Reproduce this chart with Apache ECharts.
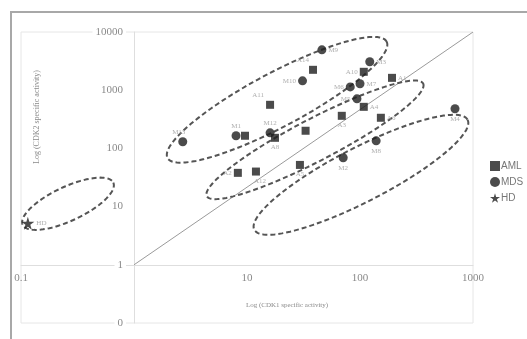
<!DOCTYPE html>
<html>
<head>
<meta charset="utf-8">
<script src="https://cdn.jsdelivr.net/npm/echarts@6/dist/echarts.min.js"></script>
<style>
  html, body { margin: 0; padding: 0; background: #fff; }
  #chart { width: 527px; height: 339px; }
</style>
</head>
<body>
<div id="chart"></div>
<script>
// values (CDK1 on x, CDK2 on y)
const amlNames = ['A1', 'A2', 'A3', 'A4', 'A5', 'A6', 'A7', 'A8', 'A9', 'A10', 'A11', 'A12', 'A14'];
const amlCdk1 = [192, 8.3, 69, 108, 29.4, 153, 33, 17.7, 9.6, 108, 16, 12, 38.4];
const amlCdk2 = [1630, 38, 363, 518, 52, 336, 201, 152, 165, 2070, 561, 40, 2240];

const mdsNames = ['M1', 'M2', 'M3', 'M4', 'M5', 'M6', 'M7', 'M8', 'M9', 'M10', 'M12', 'M13'];
const mdsCdk1 = [8.0, 71, 122, 693, 94, 82, 100, 139, 46, 31, 16, 2.7];
const mdsCdk2 = [165, 69, 3080, 479, 711, 1140, 1290, 135, 4940, 1450, 185, 130];

const hdNames = ['HD'];
const hdCdk1 = [0.115];
const hdCdk2 = [5.2];

// reference line and the dashed group outlines (tips of each long axis)
const refLine = [[1, 1], [1000, 10000]];
const groupTip1 = [[0.1035, 4.85], [1.98, 68.4], [4.41, 15.1], [11.6, 4.0]];
const groupTip2 = [[0.656, 25.8], [172, 6840], [362, 1303], [896, 310]];

const xTicks = ['0.1', '', '10', '100', '1000'];
const yTicks = ['0', '1', '10', '100', '1000', '10000'];

// label placement per point
const labelPlace = {
  M1: 'top', M2: 'bottom', M3: 'right', M4: 'bottom', M5: 'left', M6: 'left',
  M7: 'right', M8: 'bottom', M9: 'right', M10: 'left', M12: 'top', M13: 'top',
  A1: 'right', A2: 'left', A3: 'bottom', A4: 'right', A5: 'bottom', A6: 'right',
  A8: 'bottom', A10: 'left', A11: 'top', A12: 'bottom', A14: 'top', HD: 'right'
};
const labelShift = { A11: [-12, 0], A14: [-10, 0], M13: [-4, 0], A12: [4, 0] };
const outlineHalfWidth = [17, 27, 21, 27];

const STAR = 'path://M50,0 L61,35 L98,35 L68,57 L79,91 L50,70 L21,91 L32,57 L2,35 L39,35 Z';

function points(names, xs, ys) {
  return names.map((n, i) => {
    const place = labelPlace[n];
    return {
      name: n,
      value: [xs[i], ys[i]],
      label: place ? { show: true, position: place, offset: labelShift[n] || [0, 0] } : { show: false }
    };
  });
}

const pointLabel = {
  show: true,
  formatter: '{b}',
  fontFamily: 'Liberation Serif',
  fontSize: 7,
  color: '#9a9a9a',
  distance: 2
};

function tickIndex(v) {
  return Math.round(Math.log10(v));
}

const chart = echarts.init(document.getElementById('chart'));

chart.setOption({
  animation: false,
  backgroundColor: '#fff',
  grid: {
    left: 21, right: 54, top: 32, bottom: 16,
    show: true,
    borderColor: '#e6e6e6',
    borderWidth: 1
  },
  xAxis: {
    type: 'log',
    logBase: 10,
    min: 0.1,
    max: 1000,
    offset: -58,
    axisLine: { lineStyle: { color: '#dedede', width: 1 } },
    axisTick: { show: false },
    splitLine: { show: false },
    axisLabel: {
      showMinLabel: true,
      showMaxLabel: true,
      margin: 8,
      fontFamily: 'Liberation Serif',
      fontSize: 11,
      color: '#8a8a8a',
      formatter: v => xTicks[tickIndex(v) + 1]
    }
  },
  yAxis: {
    type: 'log',
    logBase: 10,
    min: 0.1,
    max: 10000,
    offset: -113,
    axisLine: { lineStyle: { color: '#dedede', width: 1 } },
    axisTick: { show: false },
    splitLine: { show: false },
    axisLabel: {
      showMinLabel: true,
      showMaxLabel: true,
      margin: 8,
      fontFamily: 'Liberation Serif',
      fontSize: 11,
      color: '#8a8a8a',
      backgroundColor: '#fff',
      padding: [0, 3],
      formatter: v => yTicks[tickIndex(v) + 1]
    }
  },
  legend: {
    orient: 'vertical',
    left: 485,
    top: 156,
    itemWidth: 10,
    itemHeight: 10,
    itemGap: 6,
    textStyle: { fontFamily: 'Liberation Sans', fontSize: 10, color: '#777', padding: [0, 0, 0, -4] },
    data: [
      { name: 'AML', icon: 'rect' },
      { name: 'MDS', icon: 'circle' },
      { name: 'HD', icon: STAR }
    ]
  },
  graphic: [
    {
      type: 'rect',
      shape: { x: 11, y: 12, width: 540, height: 350 },
      style: { fill: 'none', stroke: '#a8a8a8', lineWidth: 2 },
      silent: true
    },
    {
      type: 'text',
      x: 37, y: 117,
      rotation: Math.PI / 2,
      style: {
        text: 'Log (CDK2 specific activity)',
        fontFamily: 'Liberation Serif', fontSize: 8, fill: '#8a8a8a',
        textAlign: 'center', textVerticalAlign: 'middle'
      }
    },
    {
      type: 'text',
      x: 287, y: 305,
      style: {
        text: 'Log (CDK1 specific activity)',
        fontFamily: 'Liberation Serif', fontSize: 7, fill: '#8a8a8a',
        textAlign: 'center', textVerticalAlign: 'middle'
      }
    }
  ],
  series: [
    {
      type: 'line',
      data: refLine,
      symbol: 'none',
      lineStyle: { color: '#9a9a9a', width: 1 },
      silent: true,
      z: 1
    },
    {
      type: 'custom',
      silent: true,
      z: 2,
      data: groupTip1.map((t, i) => [t[0], t[1], groupTip2[i][0], groupTip2[i][1]]),
      encode: { x: [0, 2], y: [1, 3] },
      renderItem: function (params, api) {
        const p1 = api.coord([api.value(0), api.value(1)]);
        const p2 = api.coord([api.value(2), api.value(3)]);
        const cx = (p1[0] + p2[0]) / 2;
        const cy = (p1[1] + p2[1]) / 2;
        const a = Math.hypot(p2[0] - p1[0], p2[1] - p1[1]) / 2;
        const ang = Math.atan2(p2[1] - p1[1], p2[0] - p1[0]);
        const b = outlineHalfWidth[params.dataIndex];
        const pts = [];
        for (let k = 0; k < 120; k++) {
          const t = (k / 120) * Math.PI * 2;
          const ux = a * Math.cos(t), uy = b * Math.sin(t);
          pts.push([cx + ux * Math.cos(ang) - uy * Math.sin(ang), cy + ux * Math.sin(ang) + uy * Math.cos(ang)]);
        }
        return {
          type: 'polygon',
          shape: { points: pts },
          style: { fill: 'none', stroke: '#555', lineWidth: 2, lineDash: [5, 3] }
        };
      }
    },
    {
      name: 'AML',
      type: 'scatter',
      symbol: 'rect',
      symbolSize: 8,
      itemStyle: { color: '#1e1e1e' },
      label: pointLabel,
      data: points(amlNames, amlCdk1, amlCdk2),
      z: 3
    },
    {
      name: 'MDS',
      type: 'scatter',
      symbol: 'circle',
      symbolSize: 9,
      itemStyle: { color: '#1e1e1e' },
      label: pointLabel,
      data: points(mdsNames, mdsCdk1, mdsCdk2),
      z: 3
    },
    {
      name: 'HD',
      type: 'scatter',
      symbol: STAR,
      symbolSize: 13,
      itemStyle: { color: '#1e1e1e' },
      label: pointLabel,
      data: points(hdNames, hdCdk1, hdCdk2),
      z: 3
    }
  ]
});
</script>
</body>
</html>
